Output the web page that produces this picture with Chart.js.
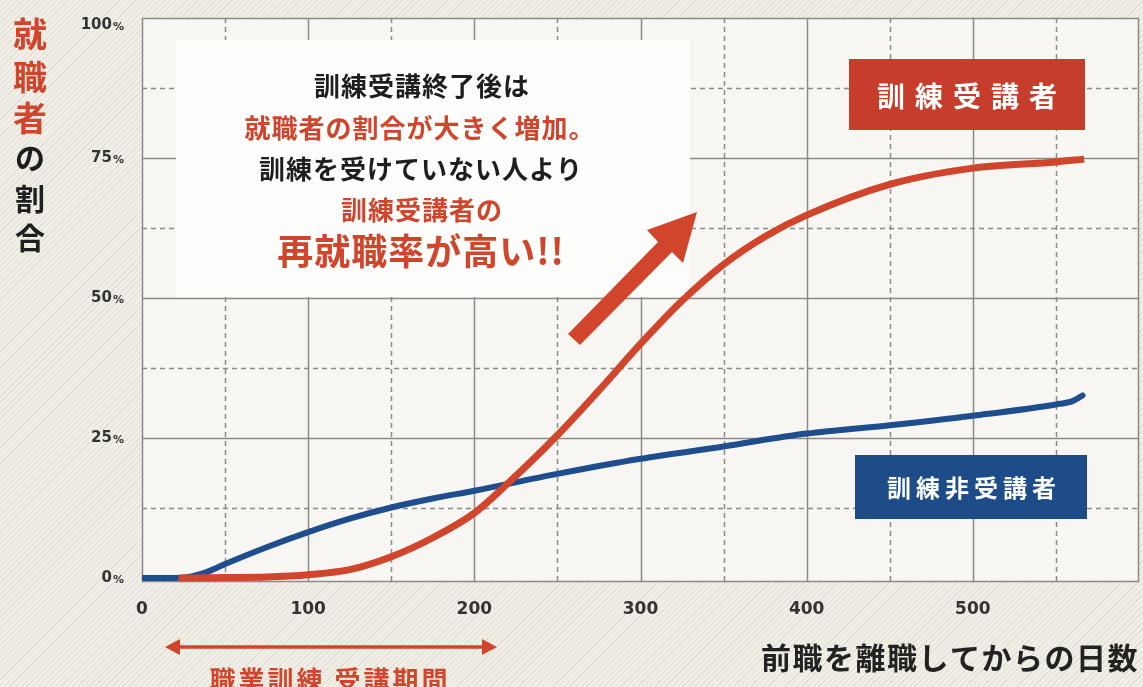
<!DOCTYPE html>
<html lang="ja">
<head>
<meta charset="utf-8">
<script src="https://cdn.jsdelivr.net/npm/chart.js@4.4.1/dist/chart.umd.min.js"></script>
<style>
  html, body { margin: 0; padding: 0; }
  body {
    width: 1143px; height: 687px; overflow: hidden;
    background-color: #f0eee5;
    background-image: repeating-linear-gradient(135deg, rgba(90,90,80,0.10) 0 1px, transparent 1px 4px);
  }
  #wrap { position: relative; width: 1143px; height: 687px; }
</style>
</head>
<body>
<div id="wrap"><canvas id="chart"></canvas></div>
<script>
// データ
const xTickLabels = [0, 100, 200, 300, 400, 500];
const yTickLabels = [0, 25, 50, 75, 100];

// 訓練受講者
const traineeDays  = [22, 50, 75, 100, 125, 150, 175, 200, 218, 250, 275, 300, 325, 350, 375, 400, 450, 500, 550, 567];
const traineeRates = [0, 0.1, 0.2, 0.6, 1.5, 3.8, 7.2, 11.6, 16.3, 25.5, 33.5, 41.8, 49.5, 56, 61, 64.8, 70.3, 73.2, 74.3, 74.8];

// 訓練非受講者
const nonTraineeDays  = [0, 20, 30, 40, 50, 75, 100, 125, 150, 175, 200, 250, 300, 350, 400, 450, 500, 550, 560, 566];
const nonTraineeRates = [0, 0, 0.3, 1.2, 2.5, 5.5, 8.2, 10.6, 12.6, 14.2, 15.6, 18.6, 21.3, 23.5, 25.8, 27.3, 29, 31, 31.6, 32.6];

const RED = "#d0452c";
const BLUE = "#1f4e8f";
const JP = '"Noto Sans CJK JP", "Noto Sans", sans-serif';

function toPoints(xs, ys) {
  return xs.map(function (x, i) { return { x: x, y: ys[i] }; });
}

// 背景・グリッド・白い囲み
const backPlugin = {
  id: "back",
  beforeDatasetsDraw(chart) {
    const ctx = chart.ctx;
    const a = chart.chartArea;
    const xs = chart.scales.x, ys = chart.scales.y;
    ctx.save();
    ctx.fillStyle = "#f7f6f2";
    ctx.fillRect(a.left, a.top, a.right - a.left, a.bottom - a.top);

    ctx.strokeStyle = "#8a8a88";
    ctx.lineWidth = 1.5;
    // 縦線
    for (let d = 50; d < 600; d += 50) {
      const px = Math.round(xs.getPixelForValue(d)) + 0.5;
      ctx.setLineDash(d % 100 === 0 ? [] : [5, 4]);
      ctx.beginPath();
      ctx.moveTo(px, a.top);
      ctx.lineTo(px, a.bottom);
      ctx.stroke();
    }
    // 横線
    for (let v = 12.5; v < 100; v += 12.5) {
      const py = Math.round(ys.getPixelForValue(v)) + 0.5;
      ctx.setLineDash(v % 25 === 0 ? [] : [5, 4]);
      ctx.beginPath();
      ctx.moveTo(a.left, py);
      ctx.lineTo(a.right, py);
      ctx.stroke();
    }
    ctx.setLineDash([]);
    ctx.strokeRect(a.left + 0.5, a.top + 0.5, a.right - a.left - 1, a.bottom - a.top - 1);

    // 説明文の白い囲み
    ctx.fillStyle = "#fdfdfb";
    ctx.fillRect(176, 40, 514, 257);
    ctx.restore();
  }
};

// 文字・矢印・ラベル
const frontPlugin = {
  id: "front",
  afterDatasetsDraw(chart) {
    const ctx = chart.ctx;
    const xs = chart.scales.x, ys = chart.scales.y;
    ctx.save();

    // 目盛りラベル（y）
    ctx.fillStyle = "#333";
    ctx.textBaseline = "middle";
    yTickLabels.forEach(function (v) {
      let py = ys.getPixelForValue(v);
      if (py < 25) py = 25;
      ctx.font = "bold 11px 'DejaVu Sans'";
      ctx.textAlign = "right";
      const pw = ctx.measureText("%").width;
      ctx.fillText("%", 124, py + 2);
      ctx.font = "bold 15px 'DejaVu Sans'";
      ctx.fillText(String(v), 124 - pw - 1, py);
    });
    // 目盛りラベル（x）
    ctx.font = "bold 17px 'DejaVu Sans'";
    ctx.textAlign = "center";
    xTickLabels.forEach(function (d) {
      ctx.fillText(String(d), xs.getPixelForValue(d), 610);
    });

    // 縦軸タイトル
    ctx.textAlign = "center";
    ctx.font = "bold 34px " + JP;
    ctx.fillStyle = RED;
    [["就", 34], ["職", 77], ["者", 118]].forEach(function (c) { ctx.fillText(c[0], 30, c[1]); });
    ctx.font = "bold 30px " + JP;
    ctx.fillStyle = "#1e1e1e";
    [["の", 158], ["割", 199], ["合", 238]].forEach(function (c) { ctx.fillText(c[0], 30, c[1]); });

    // 横軸タイトル
    ctx.textAlign = "right";
    ctx.font = "bold 30px " + JP;
    ctx.letterSpacing = "1.5px";
    ctx.fillStyle = "#222";
    ctx.fillText("前職を離職してからの日数", 1139, 658);

    // 受講期間の矢印
    ctx.strokeStyle = RED;
    ctx.fillStyle = RED;
    ctx.lineWidth = 3.5;
    ctx.beginPath();
    ctx.moveTo(175, 647);
    ctx.lineTo(487, 647);
    ctx.stroke();
    ctx.beginPath();
    ctx.moveTo(165, 647); ctx.lineTo(180, 639); ctx.lineTo(180, 655); ctx.closePath(); ctx.fill();
    ctx.beginPath();
    ctx.moveTo(497, 647); ctx.lineTo(482, 639); ctx.lineTo(482, 655); ctx.closePath(); ctx.fill();
    ctx.textAlign = "center";
    ctx.font = "bold 26px " + JP;
    ctx.letterSpacing = "3px";
    ctx.fillText("職業訓練 受講期間", 330, 680);

    // 説明文
    ctx.letterSpacing = "1px";
    ctx.font = "bold 26px " + JP;
    ctx.fillStyle = "#1e1e1e";
    ctx.fillText("訓練受講終了後は", 422, 86);
    ctx.fillStyle = RED;
    ctx.fillText("就職者の割合が大きく増加。", 420, 128);
    ctx.fillStyle = "#1e1e1e";
    ctx.fillText("訓練を受けていない人より", 421, 169);
    ctx.fillStyle = RED;
    ctx.fillText("訓練受講者の", 422, 210);
    ctx.font = "bold 36px " + JP;
    ctx.fillText("再就職率が高い!!", 421, 251);

    // 太い矢印
    ctx.beginPath();
    ctx.moveTo(697, 212);
    ctx.lineTo(683, 263);
    ctx.lineTo(672, 252);
    ctx.lineTo(580, 345);
    ctx.lineTo(568, 334);
    ctx.lineTo(658, 242);
    ctx.lineTo(647, 230);
    ctx.closePath();
    ctx.fill();

    // 系列ラベル
    ctx.letterSpacing = "0px";
    ctx.fillStyle = "#c63d2b";
    ctx.fillRect(849, 59, 236, 71);
    ctx.fillStyle = "#1d4c89";
    ctx.fillRect(855, 455, 232, 64);
    ctx.fillStyle = "#ffffff";
    ctx.font = "bold 28px " + JP;
    ctx.letterSpacing = "10px";
    ctx.fillText("訓練受講者", 972, 96);
    ctx.font = "bold 24px " + JP;
    ctx.letterSpacing = "5px";
    ctx.fillText("訓練非受講者", 974, 488);
    ctx.restore();
  }
};

new Chart(document.getElementById("chart"), {
  type: "line",
  data: {
    datasets: [
      {
        label: "訓練受講者",
        data: toPoints(traineeDays, traineeRates),
        borderColor: RED,
        borderWidth: 7,
        cubicInterpolationMode: "monotone",
        pointRadius: 0,
        borderCapStyle: "butt"
      },
      {
        label: "訓練非受講者",
        data: toPoints(nonTraineeDays, nonTraineeRates),
        borderColor: BLUE,
        borderWidth: 6,
        cubicInterpolationMode: "monotone",
        pointRadius: 0,
        borderCapStyle: "round"
      }
    ]
  },
  options: {
    responsive: true,
    maintainAspectRatio: false,
    animation: false,
    layout: { padding: { left: 142, top: 18, right: 4, bottom: 105 } },
    scales: {
      x: { type: "linear", min: 0, max: 600, display: false },
      y: { min: -0.7, max: 100, display: false }
    },
    plugins: {
      legend: { display: false },
      tooltip: { enabled: false }
    }
  },
  plugins: [backPlugin, frontPlugin]
});
</script>
</body>
</html>
